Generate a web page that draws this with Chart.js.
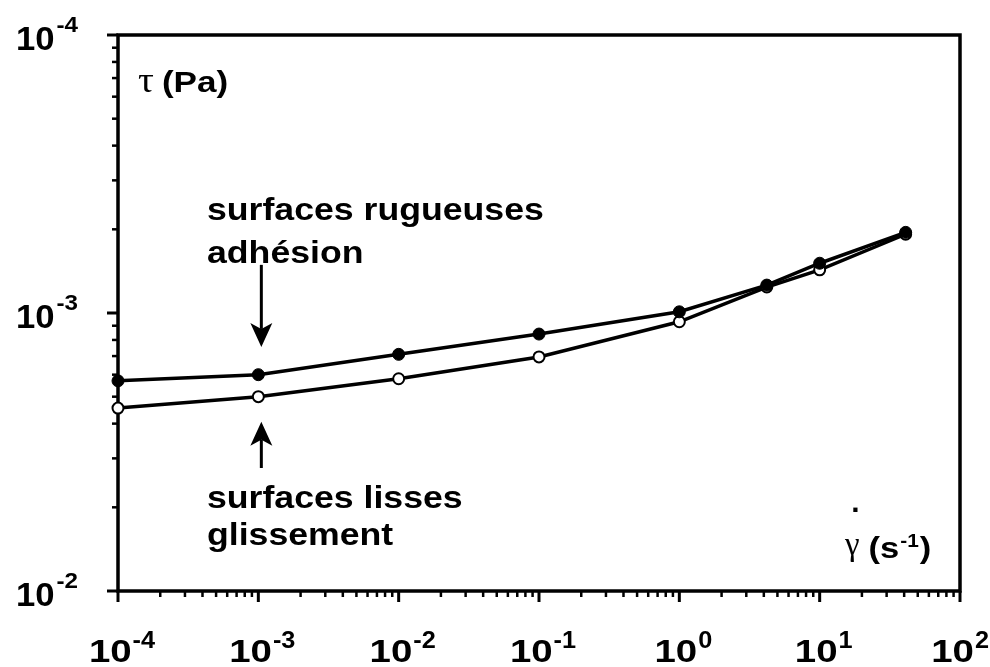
<!DOCTYPE html>
<html>
<head>
<meta charset="utf-8">
<script src="https://cdn.jsdelivr.net/npm/chart.js@4"></script>
<style>
  body { margin: 0; background: #fff; }
  canvas { display: block; }
</style>
</head>
<body>
<canvas id="flowChart" width="990" height="667"></canvas>
<script>
// Shear rates (s-1) of the measured points
const shearRates = [1e-4, 1e-3, 1e-2, 1e-1, 1, 4.2, 10, 41];
// Stress for rough surfaces (adhesion), filled markers
const roughStress = [5.7e-4, 6.0e-4, 7.1e-4, 8.4e-4, 1.01e-3, 1.26e-3, 1.51e-3, 1.95e-3];
// Stress for smooth surfaces (slip), open markers
const smoothStress = [4.55e-4, 5.0e-4, 5.8e-4, 6.95e-4, 9.3e-4, 1.24e-3, 1.43e-3, 1.92e-3];

// Tick labels, exponents of 10 as printed (x from left, y from bottom)
const xTickExponents = ['-4', '-3', '-2', '-1', '0', '1', '2'];
const yTickExponents = ['-2', '-3', '-4'];

// Annotation texts
const yAxisLabel = ['τ', '(Pa)'];
const xAxisLabel = ['γ', '(s', '-1', ')'];
const roughLabel = ['surfaces rugueuses', 'adhésion'];
const smoothLabel = ['surfaces lisses', 'glissement'];

// Arrows: shear rate and stress of tail and tip
const arrowShear = 1e-3;
const downArrow = [1.49e-3, 7.55e-4];
const upArrow = [2.77e-4, 4.06e-4];

const FONT = '"Liberation Sans", Arial, sans-serif';
const GREEK_FONT = '"Liberation Serif", "DejaVu Serif", serif';

// Draw text stretched horizontally, returns drawn width
function stretchedText(ctx, str, x, y, size, bold, sx, family) {
  ctx.save();
  ctx.font = (bold ? 'bold ' : '') + size + 'px ' + (family || FONT);
  const w = ctx.measureText(str).width * sx;
  ctx.translate(x, y);
  ctx.scale(sx, 1);
  ctx.fillText(str, 0, 0);
  ctx.restore();
  return w;
}

function textWidth(ctx, str, size, bold, sx) {
  ctx.save();
  ctx.font = (bold ? 'bold ' : '') + size + 'px ' + FONT;
  const w = ctx.measureText(str).width * sx;
  ctx.restore();
  return w;
}

// Notched arrow from (x, y0) to tip (x, y1)
function drawArrow(ctx, x, y0, y1) {
  const dir = y1 > y0 ? 1 : -1;
  const headLen = 24, half = 11, notch = 6;
  ctx.save();
  ctx.strokeStyle = '#000';
  ctx.fillStyle = '#000';
  ctx.lineWidth = 3;
  ctx.beginPath();
  ctx.moveTo(x, y0);
  ctx.lineTo(x, y1 - dir * (headLen - notch));
  ctx.stroke();
  ctx.beginPath();
  ctx.moveTo(x, y1);
  ctx.lineTo(x - half, y1 - dir * headLen);
  ctx.lineTo(x, y1 - dir * (headLen - notch));
  ctx.lineTo(x + half, y1 - dir * headLen);
  ctx.closePath();
  ctx.fill();
  ctx.restore();
}

// Log tick marks drawn outside the frame
function drawLogTicks(ctx, scale, horizontal, area) {
  const lo = Math.round(Math.log10(scale.min));
  const hi = Math.round(Math.log10(scale.max));
  ctx.save();
  ctx.strokeStyle = '#000';
  for (let d = lo; d <= hi; d++) {
    for (let k = 1; k <= 9; k++) {
      if (d === hi && k > 1) break;
      const p = scale.getPixelForValue(k * Math.pow(10, d));
      const len = k === 1 ? 11 : 6;
      ctx.lineWidth = k === 1 ? 3 : 2.5;
      ctx.beginPath();
      if (horizontal) {
        ctx.moveTo(p, area.bottom);
        ctx.lineTo(p, area.bottom + len);
      } else {
        ctx.moveTo(area.left, p);
        ctx.lineTo(area.left - len, p);
      }
      ctx.stroke();
    }
  }
  ctx.restore();
}

// Frame, ticks, labels, annotations
const figurePlugin = {
  id: 'figureDecor',
  beforeDatasetsDraw(chart) {
    const ctx = chart.ctx;
    const area = chart.chartArea;
    const xs = chart.scales.x;
    const ys = chart.scales.y;

    ctx.save();
    ctx.strokeStyle = '#000';
    ctx.lineWidth = 3.5;
    ctx.strokeRect(area.left, area.top, area.right - area.left, area.bottom - area.top);
    ctx.restore();

    drawLogTicks(ctx, xs, true, area);
    drawLogTicks(ctx, ys, false, area);

    ctx.save();
    ctx.fillStyle = '#000';
    ctx.textBaseline = 'alphabetic';

    // x tick labels
    const xLo = Math.round(Math.log10(xs.min));
    xTickExponents.forEach((exp, i) => {
      const p = xs.getPixelForValue(Math.pow(10, xLo + i));
      const wb = textWidth(ctx, '10', 32, true, 1.2);
      const we = textWidth(ctx, exp, 23, true, 1.1);
      let x0 = p + 4 - (wb + we + 1) / 2;
      x0 = Math.min(x0, chart.width - wb - we - 2);
      stretchedText(ctx, '10', x0, area.bottom + 71, 32, true, 1.2);
      stretchedText(ctx, exp, x0 + wb + 1, area.bottom + 57, 23, true, 1.1);
    });

    // y tick labels, right aligned
    const yLo = Math.round(Math.log10(ys.min));
    yTickExponents.forEach((exp, i) => {
      const p = ys.getPixelForValue(Math.pow(10, yLo + i));
      const wb = textWidth(ctx, '10', 33, true, 1.05);
      const we = textWidth(ctx, exp, 22, true, 1.1);
      const right = area.left - 40;
      stretchedText(ctx, '10', right - we - 2 - wb, p + 15, 33, true, 1.05);
      stretchedText(ctx, exp, right - we, p - 3, 22, true, 1.1);
    });
    ctx.restore();
  },
  afterDatasetsDraw(chart) {
    const ctx = chart.ctx;
    const area = chart.chartArea;
    const xs = chart.scales.x;
    const ys = chart.scales.y;

    ctx.save();
    ctx.fillStyle = '#000';

    // y axis title
    let x = area.left + 20;
    x += stretchedText(ctx, yAxisLabel[0], x, area.top + 57, 36, false, 1.1, GREEK_FONT) + 8;
    stretchedText(ctx, yAxisLabel[1], x, area.top + 57, 30, true, 1.17);

    // x axis title with dot over gamma
    x = area.left + 727;
    const yb = area.bottom - 33;
    const wg = stretchedText(ctx, xAxisLabel[0], x, yb - 3, 33, false, 1.0, GREEK_FONT);
    stretchedText(ctx, '.', x + wg / 2 - 1, yb - 46, 30, true, 1.0);
    x += wg + 9;
    x += stretchedText(ctx, xAxisLabel[1], x, yb, 30, true, 1.15) + 1;
    x += stretchedText(ctx, xAxisLabel[2], x, yb - 11, 19, true, 1.1) + 1;
    stretchedText(ctx, xAxisLabel[3], x, yb, 30, true, 1.15);

    // annotations
    const tx = area.left + 89;
    stretchedText(ctx, roughLabel[0], tx, 220, 31, true, 1.15);
    stretchedText(ctx, roughLabel[1], tx, 263, 31, true, 1.15);
    stretchedText(ctx, smoothLabel[0], tx, 508, 31, true, 1.15);
    stretchedText(ctx, smoothLabel[1], tx, 545, 31, true, 1.15);
    ctx.restore();

    const ax = xs.getPixelForValue(arrowShear) + 3;
    drawArrow(ctx, ax, ys.getPixelForValue(downArrow[0]), ys.getPixelForValue(downArrow[1]));
    drawArrow(ctx, ax, ys.getPixelForValue(upArrow[0]), ys.getPixelForValue(upArrow[1]));
  }
};

// Building the point lists
const roughPoints = shearRates.map((x, i) => ({ x: x, y: roughStress[i] }));
const smoothPoints = shearRates.map((x, i) => ({ x: x, y: smoothStress[i] }));

// Creating the chart
const ctx = document.getElementById('flowChart');
new Chart(ctx, {
  type: 'line',
  data: {
    datasets: [
      {
        label: 'surfaces rugueuses',
        data: roughPoints,
        borderColor: '#000',
        borderWidth: 3.5,
        backgroundColor: '#000',
        pointRadius: 6,
        pointBorderWidth: 1,
        pointBorderColor: '#000',
        pointBackgroundColor: '#000',
        tension: 0,
        clip: false,
      },
      {
        label: 'surfaces lisses',
        data: smoothPoints,
        borderColor: '#000',
        borderWidth: 3.5,
        pointRadius: 5.5,
        pointBorderWidth: 2,
        pointBorderColor: '#000',
        pointBackgroundColor: '#fff',
        tension: 0,
        clip: false,
      },
    ],
  },
  options: {
    responsive: false,
    animation: false,
    layout: {
      padding: { left: 118, top: 35, right: 30, bottom: 76 },
    },
    plugins: {
      legend: { display: false },
      tooltip: { enabled: false },
    },
    scales: {
      x: {
        type: 'logarithmic',
        min: 1e-4,
        max: 1e2,
        grid: { display: false, drawTicks: false },
        border: { display: false },
        ticks: { display: false },
        afterFit: (scale) => { scale.height = 0; },
      },
      y: {
        type: 'logarithmic',
        min: 1e-4,
        max: 1e-2,
        grid: { display: false, drawTicks: false },
        border: { display: false },
        ticks: { display: false },
        afterFit: (scale) => { scale.width = 0; },
      },
    },
  },
  plugins: [figurePlugin],
});
</script>
</body>
</html>
